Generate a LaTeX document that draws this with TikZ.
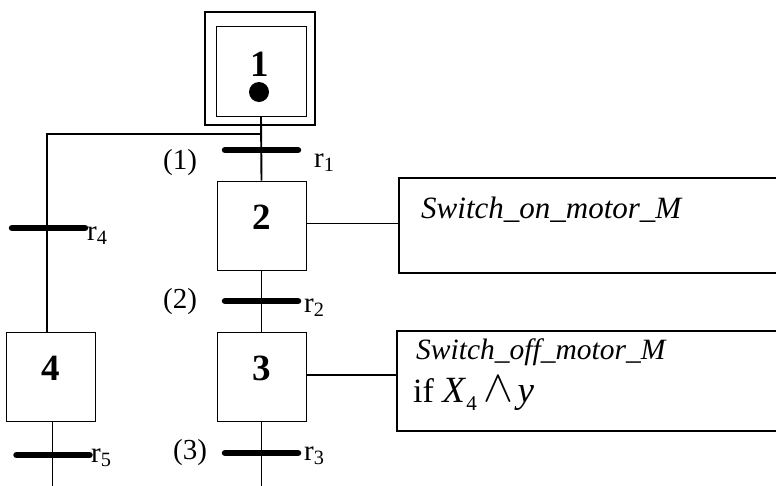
\documentclass[tikz,border=0pt]{standalone}
\usepackage{fontspec}
\setmainfont{Liberation Serif}
\begin{document}
\begin{tikzpicture}[x=1pt,y=-1pt,
  stepbox/.style={draw, line width=1pt, minimum width=89pt, minimum height=89pt, inner sep=0pt},
  link/.style={line width=1.9pt},
  tbar/.style={line width=6.5pt, line cap=round},
  lbl/.style={font=\fontsize{29}{31}\selectfont, inner sep=0pt},
  num/.style={font=\fontsize{37}{38}\selectfont\bfseries, inner sep=0pt, anchor=base},
  actbox/.style={draw, line width=1.5pt, anchor=north west, inner sep=0pt, minimum width=420pt},
  acttext/.style={inner sep=0pt, anchor=base west}]
\useasboundingbox (0,0) rectangle (776,485);
% step 1 (initial)
\node[draw, line width=1.8pt, minimum width=110pt, minimum height=113pt, inner sep=0pt] (s1o) at (260,68.5) {};
\node[draw, line width=1pt, minimum width=90pt, minimum height=90pt, inner sep=0pt] (s1) at (261,71) {};
\node[num] (n1) at (260,76) {1};
\node[circle, fill, minimum size=20pt, inner sep=0pt] (dot1) at (259,92) {};
% steps
\node[stepbox] (s2) at (261.5,225.5) {};
\node[stepbox] (s3) at (261.5,376.5) {};
\node[stepbox] (s4) at (50.5,376.5) {};
\node[num] (n2) at (261.5,229) {2};
\node[num] (n3) at (261.5,380) {3};
\node[num] (n4) at (50.5,380) {4};
% coordinates
\coordinate (j) at (261,134);
\coordinate (c) at (47,134);
\coordinate (e3) at (261.5,490);
\coordinate (e4) at (52.5,490);
\coordinate (t1) at (261.5,150);
\coordinate (t2) at (261.5,301);
\coordinate (t3) at (261.5,453);
\coordinate (t4) at (48.5,228);
\coordinate (t5) at (53,455);
% links
\draw[link] (s1.south) -- (s2.north);
\draw[link] (j) -- (c) -- (c |- s4.north);
\draw[link] (s2.south) -- (s3.north);
\draw[link] (s3.south) -- (e3);
\draw[link] (e4 |- s4.south) -- (e4);
% transitions
\foreach \t in {t1,t2,t3,t4,t5}{
  \draw[tbar] ([xshift=-36.5pt]\t) -- ([xshift=36.5pt]\t);
}
% transition labels
\node[lbl] (p1) at (180,163) {(1)};
\node[lbl] (p2) at (180,302) {(2)};
\node[lbl] (p3) at (190,453) {(3)};
\node[lbl, anchor=base west] (r1) at (314,167) {r\textsubscript{1}};
\node[lbl, anchor=base west] (r2) at (304,312) {r\textsubscript{2}};
\node[lbl, anchor=base west] (r3) at (304,460) {r\textsubscript{3}};
\node[lbl, anchor=base west] (r4) at (87,240) {r\textsubscript{4}};
\node[lbl, anchor=base west] (r5) at (91,462) {r\textsubscript{5}};
% action boxes
\node[actbox, minimum height=95pt] (a1) at (398,177) {};
\node[actbox, minimum height=100pt] (a2) at (396,330) {};
\draw[link] ([yshift=2pt]s2.east) -- ([yshift=2pt]s2.east -| a1.west);
\draw[link] ([yshift=1.5pt]s3.east) -- ([yshift=1.5pt]s3.east -| a2.west);
\node[acttext, font=\fontsize{31}{33}\selectfont\itshape] (a1t) at (421,218) {Switch\_on\_motor\_M};
\node[acttext, font=\fontsize{29.5}{31}\selectfont\itshape] (a2t) at (416,359) {Switch\_off\_motor\_M};
\node[acttext, font=\fontsize{34}{36}\selectfont] (a2c) at (413,402) {if \textit{\fontsize{37}{37}\selectfont X}\raisebox{-8pt}{\fontsize{21}{21}\selectfont 4}\hspace{7pt}\raisebox{1pt}{\scalebox{1.8}{$\wedge$}}\hspace{4pt}\textit{\fontsize{37}{37}\selectfont y}};
\end{tikzpicture}
\end{document}
